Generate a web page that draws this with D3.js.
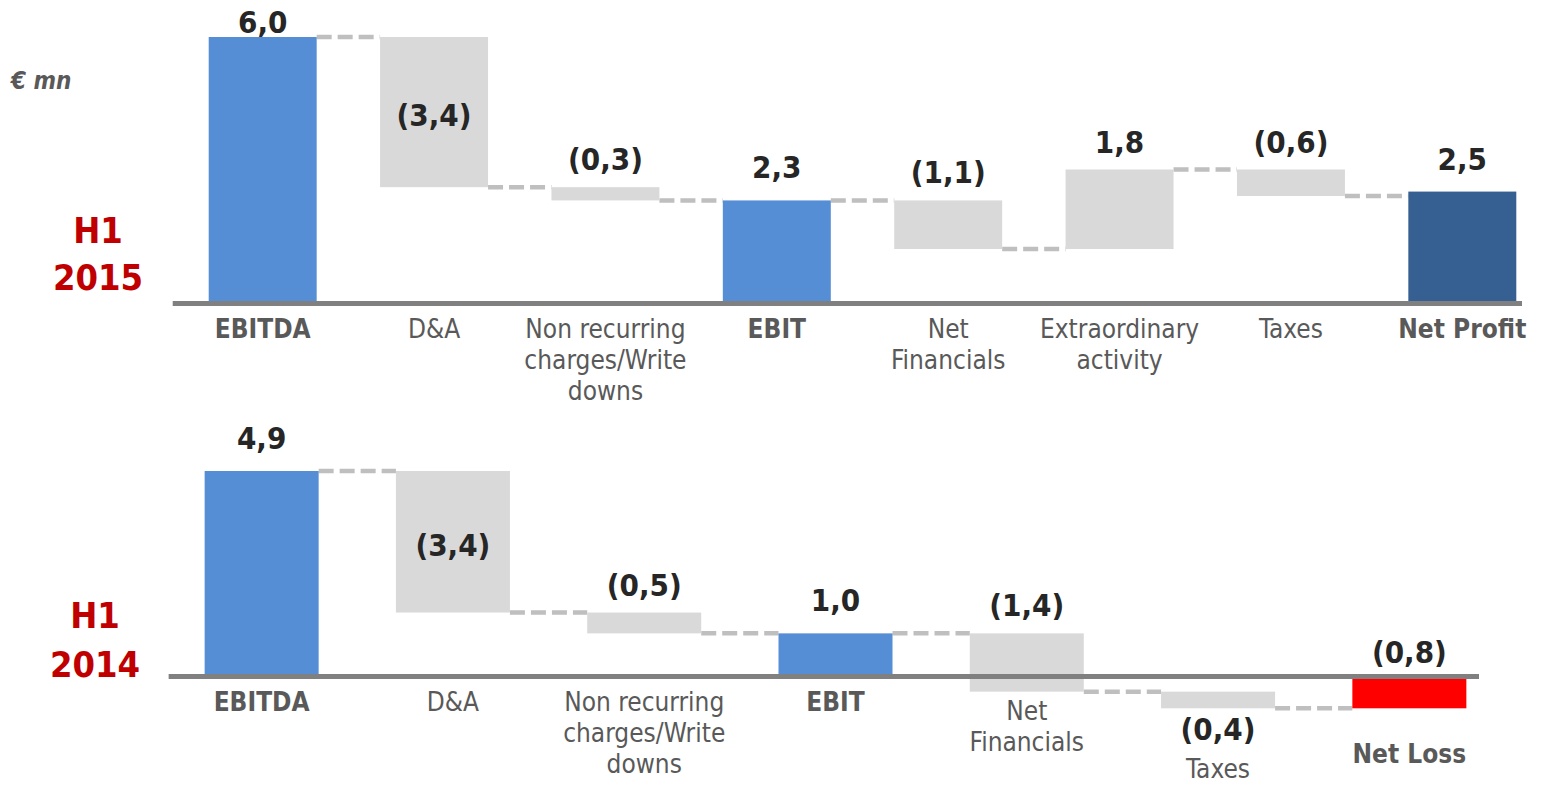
<!DOCTYPE html>
<html><head><meta charset="utf-8">
<script src="https://cdn.jsdelivr.net/npm/d3@7"></script>
<style>
html,body{margin:0;padding:0;background:#fff;}
svg{display:block;font-family:"DejaVu Sans Condensed","DejaVu Sans",sans-serif;font-stretch:condensed;}
</style></head><body>
<svg id="chart" width="1542" height="786"></svg>
<script>
// ---- data: H1 2015 ----
const categories2015 = ["EBITDA", "D&A", "Non recurring charges/Write downs", "EBIT", "Net Financials", "Extraordinary activity", "Taxes", "Net Profit"];
const labelLines2015 = [["EBITDA"], ["D&A"], ["Non recurring", "charges/Write", "downs"], ["EBIT"], ["Net", "Financials"], ["Extraordinary", "activity"], ["Taxes"], ["Net Profit"]];
const values2015 = [6.0, -3.4, -0.3, 2.3, -1.1, 1.8, -0.6, 2.5];
const kinds2015 = ["total", "delta", "delta", "total", "delta", "delta", "delta", "total"];
const valueLabels2015 = ["6,0", "(3,4)", "(0,3)", "2,3", "(1,1)", "1,8", "(0,6)", "2,5"];

// ---- data: H1 2014 ----
const categories2014 = ["EBITDA", "D&A", "Non recurring charges/Write downs", "EBIT", "Net Financials", "Taxes", "Net Loss"];
const labelLines2014 = [["EBITDA"], ["D&A"], ["Non recurring", "charges/Write", "downs"], ["EBIT"], ["Net", "Financials"], ["Taxes"], ["Net Loss"]];
const values2014 = [4.9, -3.4, -0.5, 1.0, -1.4, -0.4, -0.8];
const kinds2014 = ["total", "delta", "delta", "total", "delta", "delta", "total"];
const valueLabels2014 = ["4,9", "(3,4)", "(0,5)", "1,0", "(1,4)", "(0,4)", "(0,8)"];

const periodLabels = [["H1", "2015"], ["H1", "2014"]];
const unitLabel = "€ mn";

// ---- styles ----
const COL_BLUE = "#558ED5", COL_DARK = "#376092", COL_RED = "#FF0000", COL_GREY = "#D9D9D9";
const COL_CONN = "#BFBFBF", COL_AXIS = "#808080", COL_VAL = "#262626", COL_CAT = "#595959", COL_PERIOD = "#C00000";

const svg = d3.select("#chart");

function drawPanel(cfg) {
  const {cats, lines, values, kinds, vlabels, x, y, minLabelY} = cfg;
  const g = svg.append("g");
  const bw = x.bandwidth();
  const y0 = y(0);
  let run = 0;
  const bars = values.map((v, i) => {
    let a, b;
    if (kinds[i] === "total") { a = 0; b = v; run = v; }
    else { a = run; b = run + v; run = b; }
    return {i, cat: cats[i], lo: Math.min(a, b), hi: Math.max(a, b), end: run, v, kind: kinds[i]};
  });
  const lastIdx = bars.length - 1;
  const colorOf = d => d.kind === "delta" ? COL_GREY : (d.i === lastIdx ? (d.v >= 0 ? COL_DARK : COL_RED) : COL_BLUE);

  // connectors
  g.selectAll("line.conn").data(bars.slice(0, -1)).join("line")
    .attr("x1", d => x(d.cat) + bw)
    .attr("x2", d => x(cats[d.i + 1]))
    .attr("y1", d => y(d.end)).attr("y2", d => y(d.end))
    .attr("stroke", COL_CONN).attr("stroke-width", 4.5).attr("stroke-dasharray", "15,6");

  // bars
  g.selectAll("rect.bar").data(bars).join("rect")
    .attr("x", d => x(d.cat)).attr("width", bw)
    .attr("y", d => y(d.hi)).attr("height", d => y(d.lo) - y(d.hi))
    .attr("fill", colorOf);

  // axis line
  const xr = x.range();
  g.append("line")
    .attr("x1", x(cats[0]) - 36).attr("x2", xr[1] - 26)
    .attr("y1", y0 + 1.5).attr("y2", y0 + 1.5)
    .attr("stroke", COL_AXIS).attr("stroke-width", 5);

  // value labels
  bars.forEach(d => {
    const cx = x(d.cat) + bw / 2;
    const top = y(d.hi), bot = y(d.lo);
    let ly;
    d.labelBelow = false;
    if (d.kind === "total") {
      ly = d.v >= 0 ? Math.max(top - 22, minLabelY) : y0 - 12;
    } else if (bot - top > 90) {
      ly = (top + bot) / 2 + 14;
    } else if (d.hi < 0) {
      ly = bot + 32; d.labelBelow = true;
    } else {
      ly = top - 17;
    }
    d.valueY = ly;
    g.append("text").attr("x", cx).attr("y", ly)
      .attr("text-anchor", "middle").attr("font-weight", "bold").attr("font-size", 31)
      .attr("fill", COL_VAL).text(vlabels[d.i]);
  });

  // category labels
  bars.forEach(d => {
    const cx = x(d.cat) + bw / 2;
    const bot = y(d.lo);
    let ly = y0 + 36;
    if (d.labelBelow) ly = d.valueY + 38;
    else if (bot > y0 + 6) ly = bot + (d.kind === "total" ? 55 : 28);
    const isTotal = d.kind === "total";
    const t = g.append("text").attr("text-anchor", "middle")
      .attr("font-weight", isTotal ? "bold" : "normal")
      .attr("font-size", 26).attr("fill", COL_CAT);
    lines[d.i].forEach((s, k) => {
      t.append("tspan").attr("x", cx).attr("y", ly + k * 31).text(s);
    });
  });
}

// ---- panel H1 2015 ----
const x2015 = d3.scaleBand().domain(categories2015).range([177, 1548]).paddingInner(0.37).paddingOuter(0.185);
const y2015 = d3.scaleLinear().domain([0, 6]).range([302, 37]);
drawPanel({cats: categories2015, lines: labelLines2015, values: values2015, kinds: kinds2015, vlabels: valueLabels2015, x: x2015, y: y2015, minLabelY: 33});

// ---- panel H1 2014 ----
const x2014 = d3.scaleBand().domain(categories2014).range([166, 1505]).paddingInner(0.404).paddingOuter(0.202);
const y2014 = d3.scaleLinear().domain([0, 4.9]).range([675, 471]);
drawPanel({cats: categories2014, lines: labelLines2014, values: values2014, kinds: kinds2014, vlabels: valueLabels2014, x: x2014, y: y2014, minLabelY: 420});

// ---- period labels ----
const periodPos = [{x: 98, y: [243, 290]}, {x: 95, y: [628, 677]}];
periodLabels.forEach((pl, i) => {
  pl.forEach((s, k) => {
    svg.append("text").attr("x", periodPos[i].x).attr("y", periodPos[i].y[k])
      .attr("text-anchor", "middle").attr("font-weight", "bold").attr("font-size", 36)
      .attr("fill", COL_PERIOD).text(s);
  });
});

// ---- unit ----
svg.append("text").attr("x", 11).attr("y", 89)
  .attr("font-weight", "bold").attr("font-style", "italic").attr("font-size", 24)
  .attr("fill", COL_CAT).text(unitLabel);
</script>
</body></html>
